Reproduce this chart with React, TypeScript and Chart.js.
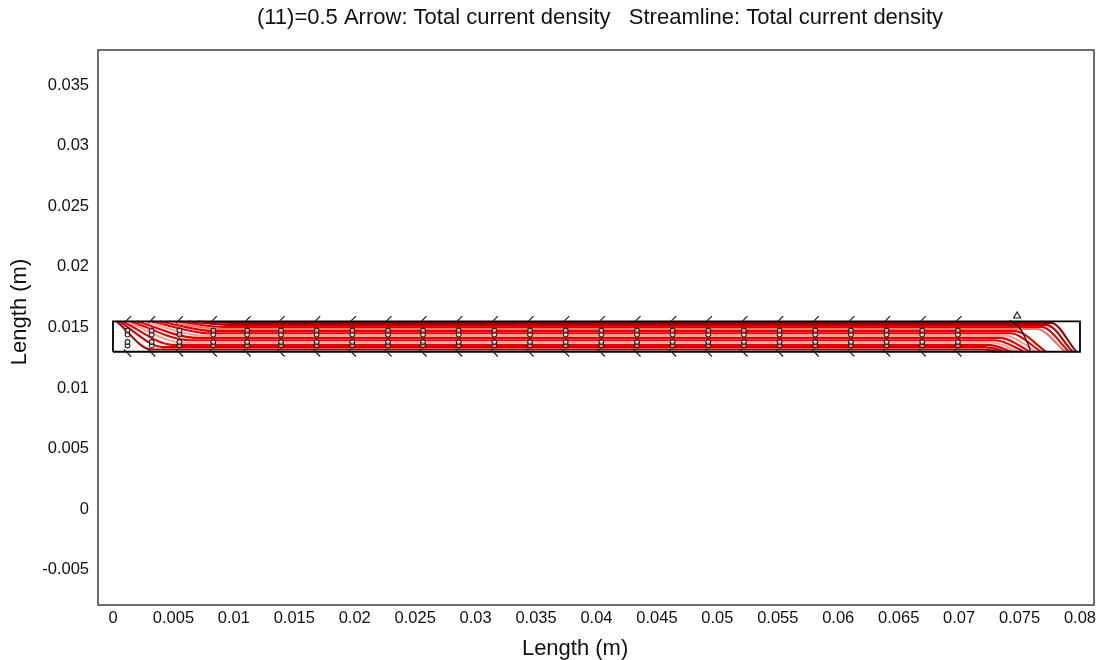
import React, { useEffect, useRef } from "react";
import { Chart, registerables } from "chart.js";

Chart.register(...registerables);

// ---------- data ----------
const titleText = "(11)=0.5 Arrow: Total current density   Streamline: Total current density";
const xAxisTitle = "Length (m)";
const yAxisTitle = "Length (m)";

const xMin = -0.00124;
const xMax = 0.08116;
const yMin = -0.0079;
const yMax = 0.0379;

const xTickValues = [0, 0.005, 0.01, 0.015, 0.02, 0.025, 0.03, 0.035, 0.04, 0.045, 0.05, 0.055, 0.06, 0.065, 0.07, 0.075, 0.08];
const xTickLabels = ["0", "0.005", "0.01", "0.015", "0.02", "0.025", "0.03", "0.035", "0.04", "0.045", "0.05", "0.055", "0.06", "0.065", "0.07", "0.075", "0.08"];
const yTickValues = [-0.005, 0, 0.005, 0.01, 0.015, 0.02, 0.025, 0.03, 0.035];
const yTickLabels = ["-0.005", "0", "0.005", "0.01", "0.015", "0.02", "0.025", "0.03", "0.035"];

// strip (domain) outline
const stripX = [0, 0.08, 0.08, 0, 0];
const stripY = [0.013, 0.013, 0.0155, 0.0155, 0.013];
const stripTop = 0.0155;
const stripBottom = 0.013;

// streamlines (top to bottom)
const streamLevels = [0.01538, 0.01522, 0.01505, 0.01488, 0.0147, 0.01452, 0.01433, 0.01414, 0.01395, 0.01376, 0.01357, 0.01338, 0.01318];
const streamEntryX = [0.007, 0.0062, 0.0054, 0.0046, 0.0039, 0.0032, 0.0026, 0.002, 0.0015, 0.0011, 0.0008, 0.0005, 0.0003];
const streamSettleX = [0.01, 0.0096, 0.0092, 0.0088, 0.0084, 0.008, 0.0075, 0.007, 0.0064, 0.0058, 0.005, 0.0042, 0.0032];
const streamTurnX = [0.0776, 0.0772, 0.0768, 0.0764, 0.0746, 0.0742, 0.0738, 0.0734, 0.073, 0.0727, 0.0724, 0.0721, 0.0719];
const streamExitX = [0.0797, 0.0794, 0.0791, 0.0788, 0.0772, 0.0768, 0.0764, 0.0759, 0.0754, 0.0749, 0.0744, 0.0739, 0.0733];
const streamColors = ["#9c0000", "#b80000", "#e60000", "#f07070", "#e60000", "#e60000", "#f5a0a0", "#e60000", "#e60000", "#f5a0a0", "#e60000", "#d00000", "#a80000"];

// arrow glyph columns
const arrowColumnsX = [0.0012, 0.0032, 0.0055, 0.0083, 0.0111, 0.0139, 0.01685, 0.0198, 0.02275, 0.02565, 0.0286, 0.03155, 0.0345, 0.03745, 0.0404, 0.04335, 0.0463, 0.04925, 0.0522, 0.05515, 0.0581, 0.06105, 0.064, 0.06695, 0.0699];
const arrowTopY = 0.01565;
const arrowBottomY = 0.0129;
const arrowRingY = [0.01475, 0.01442, 0.0138, 0.01352];

// black streamline near the right end
const exitCurveX = [0.0742, 0.0749, 0.0755, 0.0759];
const exitCurveY = [0.0156, 0.0151, 0.0141, 0.0131];
const exitHeadX = [0.0748];
const exitHeadY = [0.01595];

const FONT = '"Liberation Sans", Arial, Helvetica, sans-serif';
const TEXT = "#111";

const textPlugin = {
  id: "texts",
  afterDraw(chart: any) {
    const { ctx, chartArea: a } = chart;
    ctx.save();
    ctx.fillStyle = TEXT;
    ctx.textAlign = "center";
    ctx.textBaseline = "middle";
    ctx.font = `22px ${FONT}`;
    ctx.fillText(titleText, (a.left + a.right) / 2 + 4, 18);
    ctx.font = `22px ${FONT}`;
    ctx.fillText(xAxisTitle, a.left + (a.right - a.left) * 0.479, 649);
    ctx.translate(20, a.top + (a.bottom - a.top) * 0.472);
    ctx.rotate(-Math.PI / 2);
    ctx.fillText(yAxisTitle, 0, 0);
    ctx.restore();
  },
};

const framePlugin = {
  id: "frame",
  afterDatasetsDraw(chart: any) {
    const { ctx, chartArea: a } = chart;
    ctx.save();
    ctx.strokeStyle = "#4a4a4a";
    ctx.lineWidth = 1.6;
    ctx.strokeRect(a.left, a.top, a.right - a.left, a.bottom - a.top);
    ctx.restore();
  },
};

export default function App() {
  const ref = useRef<HTMLCanvasElement | null>(null);

  useEffect(() => {
    document.body.style.margin = "0";
    const canvas = ref.current;
    if (!canvas) return;

    const datasets: any[] = [];

    streamLevels.forEach((lev, i) => {
      datasets.push({
        data: [
          { x: streamEntryX[i], y: stripTop },
          { x: streamSettleX[i], y: lev },
          { x: streamTurnX[i], y: lev },
          { x: streamExitX[i], y: stripBottom },
        ],
        showLine: true,
        borderColor: streamColors[i],
        borderWidth: 2.1,
        pointRadius: 0,
        cubicInterpolationMode: "monotone",
        fill: false,
        order: 5,
      });
    });

    datasets.push({
      data: stripX.map((x, i) => ({ x, y: stripY[i] })),
      showLine: true,
      borderColor: "#000",
      borderWidth: 1.8,
      pointRadius: 0,
      tension: 0,
      fill: false,
      order: 4,
    });

    datasets.push({
      data: exitCurveX.map((x, i) => ({ x, y: exitCurveY[i] })),
      showLine: true,
      borderColor: "#111",
      borderWidth: 1.3,
      pointRadius: 0,
      cubicInterpolationMode: "monotone",
      fill: false,
      order: 3,
    });

    datasets.push({
      data: exitHeadX.map((x, i) => ({ x, y: exitHeadY[i] })),
      showLine: false,
      pointStyle: "triangle",
      pointRadius: 4,
      borderColor: "#222",
      borderWidth: 1.2,
      backgroundColor: "rgba(0,0,0,0)",
      order: 1,
    });

    datasets.push({
      data: arrowColumnsX.map((x) => ({ x, y: arrowTopY })),
      showLine: false,
      pointStyle: "line",
      rotation: -45,
      pointRadius: 5,
      borderColor: "#222",
      borderWidth: 1.3,
      order: 1,
    });

    datasets.push({
      data: arrowColumnsX.map((x) => ({ x, y: arrowBottomY })),
      showLine: false,
      pointStyle: "line",
      rotation: 45,
      pointRadius: 5,
      borderColor: "#222",
      borderWidth: 1.3,
      order: 1,
    });

    arrowRingY.forEach((ry) => {
      datasets.push({
        data: arrowColumnsX.map((x) => ({ x, y: ry })),
        showLine: false,
        pointStyle: "circle",
        pointRadius: 2.4,
        borderColor: "#222",
        borderWidth: 1.1,
        backgroundColor: "rgba(255,255,255,0.5)",
        order: 1,
      });
    });

    const chart = new Chart(canvas, {
      type: "scatter",
      data: { datasets },
      plugins: [framePlugin, textPlugin],
      options: {
        animation: false,
        responsive: false,
        maintainAspectRatio: false,
        devicePixelRatio: 1,
        events: [],
        layout: { padding: { left: 0, right: 7, top: 50, bottom: 0 } },
        plugins: {
          legend: { display: false },
          tooltip: { enabled: false },
          title: { display: false },
        },
        scales: {
          x: {
            type: "linear",
            min: xMin,
            max: xMax,
            grid: { display: false, drawTicks: false },
            border: { display: false },
            afterBuildTicks: (s: any) => {
              s.ticks = xTickValues.map((v) => ({ value: v }));
            },
            afterFit: (s: any) => {
              s.height = 55;
            },
            ticks: {
              autoSkip: false,
              maxRotation: 0,
              minRotation: 0,
              padding: 4,
              color: TEXT,
              font: { family: FONT, size: 16.5 },
              callback: (_v: any, i: number) => xTickLabels[i],
            },
          },
          y: {
            type: "linear",
            min: yMin,
            max: yMax,
            grid: { display: false, drawTicks: false },
            border: { display: false },
            afterBuildTicks: (s: any) => {
              s.ticks = yTickValues.map((v) => ({ value: v }));
            },
            afterFit: (s: any) => {
              s.width = 98;
            },
            ticks: {
              autoSkip: false,
              padding: 9,
              color: TEXT,
              font: { family: FONT, size: 16.5 },
              callback: (_v: any, i: number) => yTickLabels[i],
            },
          },
        },
      } as any,
    });

    return () => chart.destroy();
  }, []);

  return (
    <div style={{ width: 1101, height: 660 }}>
      <canvas ref={ref} width={1101} height={660} style={{ display: "block" }} />
    </div>
  );
}
